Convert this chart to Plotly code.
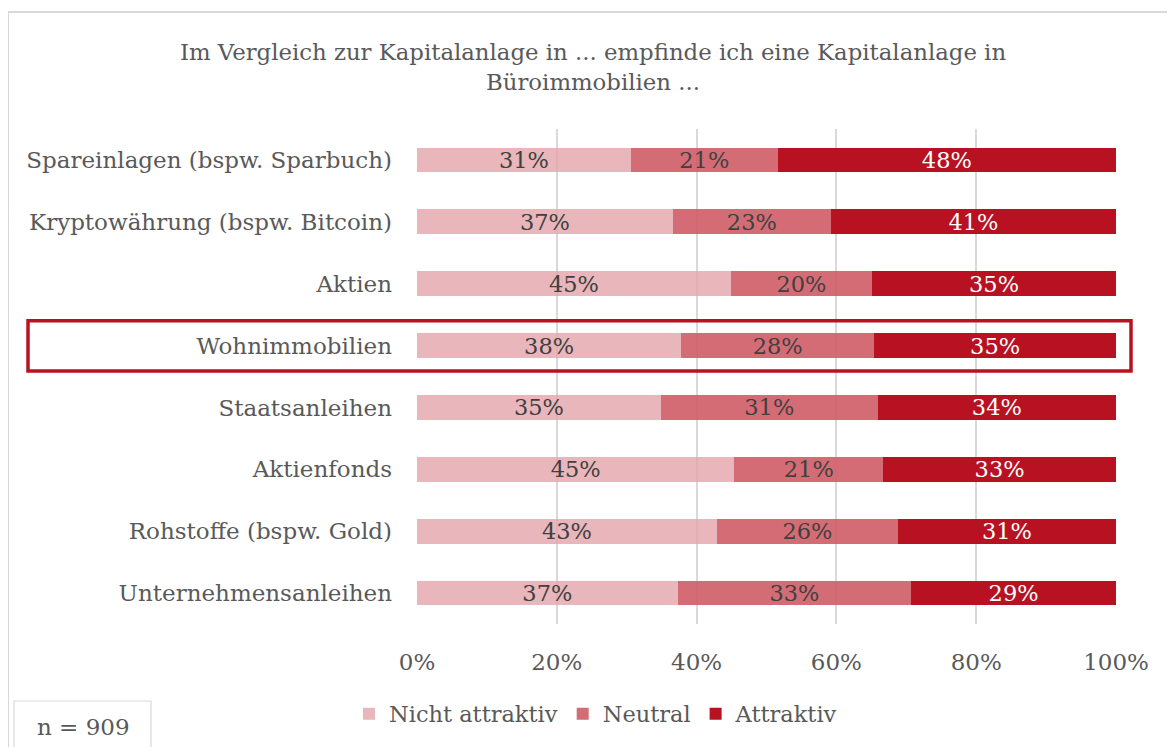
import plotly.graph_objects as go

categories = [
    "Spareinlagen (bspw. Sparbuch)",
    "Kryptowährung (bspw. Bitcoin)",
    "Aktien",
    "Wohnimmobilien",
    "Staatsanleihen",
    "Aktienfonds",
    "Rohstoffe (bspw. Gold)",
    "Unternehmensanleihen",
]
nicht_attraktiv = [30.6, 36.6, 44.9, 37.8, 34.9, 45.4, 42.9, 37.3]
neutral = [21.0, 22.6, 20.2, 27.6, 31.0, 21.3, 25.9, 33.4]
attraktiv = [48.4, 40.8, 34.9, 34.6, 34.1, 33.3, 31.2, 29.3]
tick_vals = [0, 20, 40, 60, 80, 100]
tick_text = ["0%", "20%", "40%", "60%", "80%", "100%"]

FONT = "DejaVu Serif"
GREY = "#595959"

fig = go.Figure()
series = [
    ("Nicht attraktiv", nicht_attraktiv, "rgba(227,165,170,0.8)", "#404040"),
    ("Neutral", neutral, "rgba(207,92,102,0.9)", "#404040"),
    ("Attraktiv", attraktiv, "rgb(184,18,34)", "white"),
]
for name, vals, col, tcol in series:
    fig.add_trace(go.Bar(
        y=categories, x=vals, name=name, orientation="h",
        marker=dict(color=col, line=dict(width=0)),
        texttemplate="%{x:.0f}%", textposition="inside", insidetextanchor="middle",
        textangle=0, constraintext="none",
        textfont=dict(family=FONT, size=22.5, color=tcol),
        hoverinfo="skip",
    ))

OFF = 8  # page body offset
W, H = 1175 - OFF, 747 - OFF
L = 417 - OFF
T = 129 - OFF
B = H - (624 - OFF)
R = W - (1116 - OFF)
pw, ph = W - L - R, H - T - B

def px(x):
    return (x - OFF - L) / pw

def py(y):
    return (H - B - (y - OFF)) / ph

# rounded highlight box path (paper x, data y)
x0h, x1h = 28, 1131
shapes = [
    # outer border
    dict(type="rect", xref="paper", yref="paper", x0=px(8), x1=px(1190), y0=py(12), y1=py(770),
         line=dict(color="#d9d9d9", width=2), layer="below"),
    # highlight box
    dict(type="rect", xref="paper", yref="y", x0=px(x0h), x1=px(x1h), y0=2.6, y1=3.41,
         line=dict(color="#b81222", width=3.5)),
    # n box
    dict(type="rect", xref="paper", yref="paper", x0=px(14), x1=px(151), y0=py(701), y1=py(770),
         line=dict(color="#d9d9d9", width=1.2), fillcolor="white"),
]

fig.update_layout(
    width=W, height=H,
    barmode="stack", bargap=0.6,
    paper_bgcolor="white", plot_bgcolor="white",
    margin=dict(l=L, r=R, t=T, b=B, autoexpand=False),
    font=dict(family=FONT, size=22, color=GREY),
    uniformtext=dict(mode=False),
    title=dict(
        text="Im Vergleich zur Kapitalanlage in ... empfinde ich eine Kapitalanlage in<br>Büroimmobilien ...",
        x=(593 - OFF) / W, xanchor="center", y=1 - (60 - OFF) / H, yanchor="middle",
        font=dict(family=FONT, size=22.8, color=GREY),
    ),
    xaxis=dict(range=[0, 100], tickvals=tick_vals, ticktext=tick_text, showgrid=True,
               gridcolor="#d9d9d9", gridwidth=1.5, zeroline=False, showline=False,
               ticklabelstandoff=22, tickfont=dict(size=23, color=GREY), fixedrange=True,
               automargin=False),
    yaxis=dict(autorange="reversed", showgrid=False, ticklabelstandoff=24,
               tickfont=dict(size=23, color=GREY), fixedrange=True, automargin=False),
    legend=dict(orientation="h", x=px(596), xanchor="center",
                y=py(714), yanchor="middle", font=dict(size=22.5, color=GREY),
                traceorder="normal", itemwidth=30),
    shapes=shapes,
    annotations=[dict(text="n = 909", xref="paper", yref="paper", x=px(83), y=py(727),
                      xanchor="center", yanchor="middle",
                      showarrow=False, font=dict(size=23, color=GREY))],
)

fig.write_html("out.html")
